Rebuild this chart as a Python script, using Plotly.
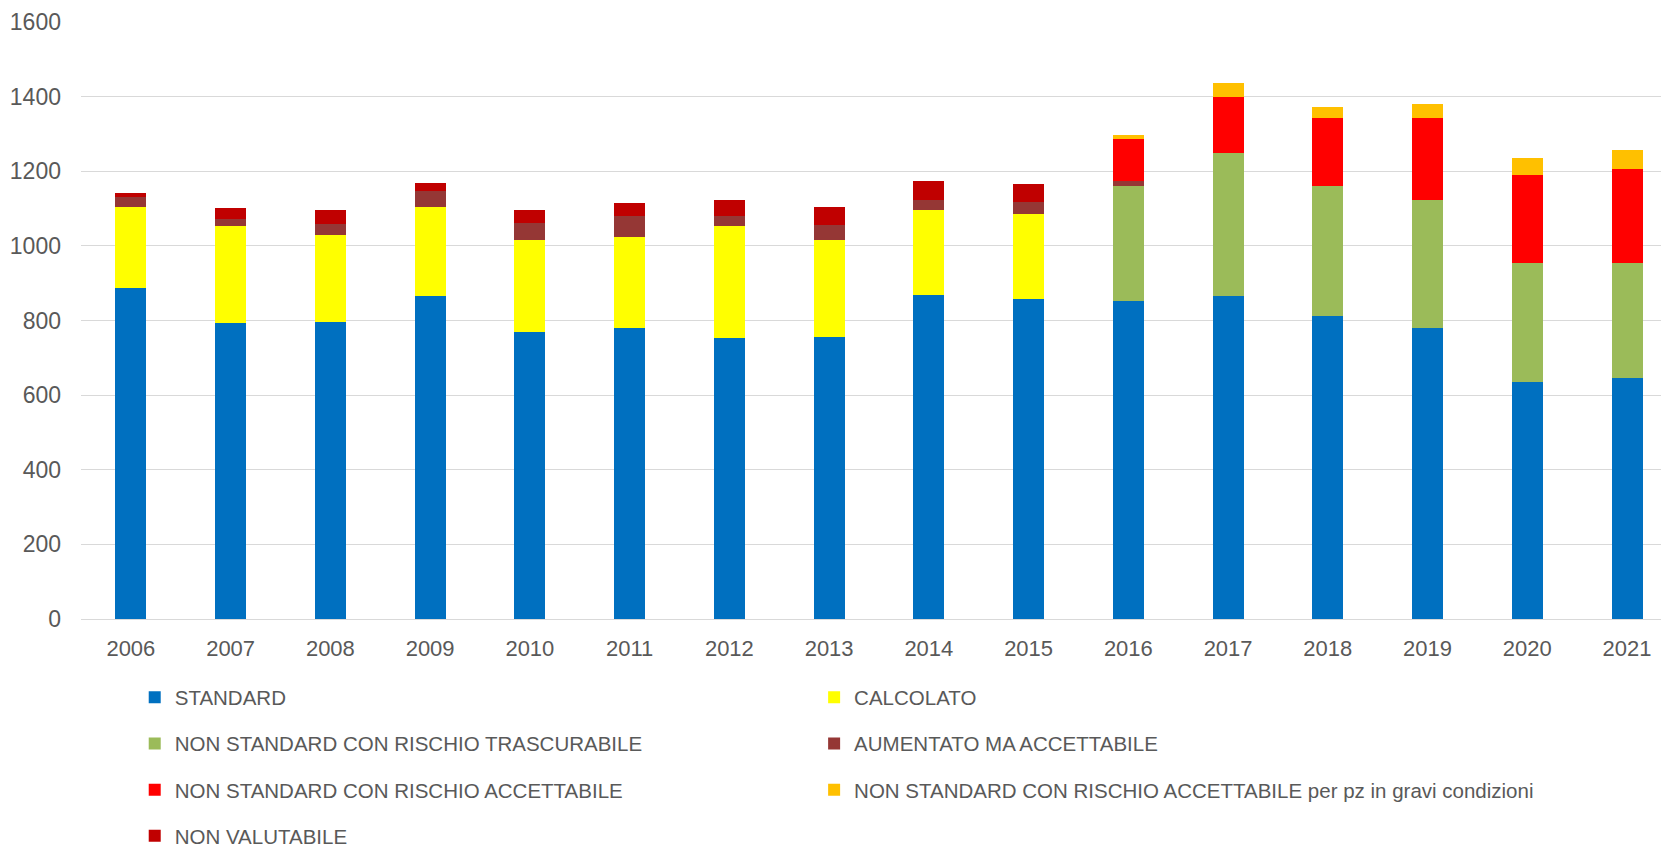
import plotly.graph_objects as go

years = ["2006", "2007", "2008", "2009", "2010", "2011", "2012", "2013",
         "2014", "2015", "2016", "2017", "2018", "2019", "2020", "2021"]

standard = [886, 794, 796, 866, 769, 779, 752, 756, 869, 858, 853, 867, 812, 779, 636, 647]
calcolato = [217, 258, 232, 237, 248, 245, 300, 261, 228, 228, 0, 0, 0, 0, 0, 0]
ns_trascurabile = [0, 0, 0, 0, 0, 0, 0, 0, 0, 0, 307, 381, 348, 344, 317, 306]
aumentato = [28, 20, 30, 45, 44, 55, 27, 39, 27, 31, 13, 0, 0, 0, 0, 0]
ns_accettabile = [0, 0, 0, 0, 0, 0, 0, 0, 0, 0, 113, 151, 182, 219, 238, 252]
ns_acc_pz = [0, 0, 0, 0, 0, 0, 0, 0, 0, 0, 10, 38, 30, 38, 45, 52]
non_valutabile = [11, 29, 39, 21, 36, 35, 45, 47, 51, 48, 0, 0, 0, 0, 0, 0]

series = [
    ("STANDARD", standard, "#0070C0", "legend"),
    ("CALCOLATO", calcolato, "#FFFF00", "legend2"),
    ("NON STANDARD CON RISCHIO TRASCURABILE", ns_trascurabile, "#9BBB59", "legend"),
    ("AUMENTATO MA ACCETTABILE", aumentato, "#953735", "legend2"),
    ("NON STANDARD CON RISCHIO ACCETTABILE", ns_accettabile, "#FF0000", "legend"),
    ("NON STANDARD CON RISCHIO ACCETTABILE per pz in gravi condizioni", ns_acc_pz, "#FFC000", "legend2"),
    ("NON VALUTABILE", non_valutabile, "#C00000", "legend"),
]

fig = go.Figure()
for name, vals, color, leg in series:
    fig.add_trace(go.Bar(
        x=years, y=vals, name=name, marker_color=color,
        marker_line_width=0, legend=leg, legendgroup=name,
    ))

text_color = "#595959"
font_family = "Liberation Sans, Arial, sans-serif"

fig.update_layout(
    barmode="stack",
    bargap=0.69,
    width=1661, height=848,
    margin=dict(l=81, r=0, t=22, b=229, autoexpand=False),
    plot_bgcolor="white", paper_bgcolor="white",
    font=dict(family=font_family, size=22, color=text_color),
    xaxis=dict(
        type="category", range=[-0.5, 15.34], automargin=False,
        showgrid=False, showline=True, linecolor="#D9D9D9", linewidth=1,
        ticks="", ticklabelstandoff=10, tickfont=dict(size=22, color=text_color),
    ),
    yaxis=dict(
        range=[0, 1600], dtick=200, showgrid=True, gridcolor="#D9D9D9", gridwidth=1,
        zeroline=False, showline=False, ticks="", ticklabelstandoff=19, automargin=False,
        tickfont=dict(size=23, color=text_color),
    ),
    legend=dict(
        orientation="v", x=0.034, xanchor="left", y=-0.098, yanchor="top",
        traceorder="grouped", tracegroupgap=16.5,
        font=dict(family=font_family, size=20.5, color=text_color),
        bgcolor="rgba(0,0,0,0)",
    ),
    legend2=dict(
        orientation="v", x=0.464, xanchor="left", y=-0.098, yanchor="top",
        traceorder="grouped", tracegroupgap=16.5,
        font=dict(family=font_family, size=20.5, color=text_color),
        bgcolor="rgba(0,0,0,0)",
    ),
    showlegend=True,
)

fig.write_html(
    "out.html",
    config={"displayModeBar": False},
    post_script="document.body.style.margin='0';document.body.style.overflow='hidden';",
)
